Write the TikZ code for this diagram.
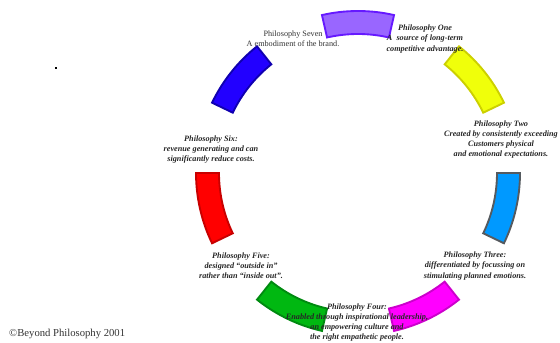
\documentclass[tikz,border=0pt]{standalone}
\usepackage{fontspec}
\setmainfont{Liberation Serif}
\usetikzlibrary{positioning}

\definecolor{segPurple}{HTML}{9966FF}
\definecolor{segPurpleD}{HTML}{6619FF}
\definecolor{segYellow}{HTML}{F0FF0A}
\definecolor{segYellowD}{HTML}{CCD000}
\definecolor{segSky}{HTML}{0099FF}
\definecolor{segSkyD}{HTML}{555A5F}
\definecolor{segMagenta}{HTML}{FF00FF}
\definecolor{segMagentaD}{HTML}{CC00CC}
\definecolor{segGreen}{HTML}{00B811}
\definecolor{segGreenD}{HTML}{008A10}
\definecolor{segRed}{HTML}{FF0000}
\definecolor{segRedD}{HTML}{C80000}
\definecolor{segBlue}{HTML}{2200FF}
\definecolor{segBlueD}{HTML}{1000B0}

\begin{document}
\begin{tikzpicture}[
    x=0.3mm, y=0.3mm,
    seg/.style={line width=1.6pt, line join=miter},
    phil/.style={
        font=\fontsize{7}{8.6}\selectfont\bfseries\itshape,
        text=black!85, align=center, inner sep=0pt,
    },
    plain/.style={
        font=\fontsize{7}{8.2}\selectfont,
        text=black!80, align=center, inner sep=0pt,
    },
]
\useasboundingbox (0,0) rectangle (560,343);

% === RING: seven segments ===
\coordinate (ctr) at (358,170);
\def\Rout{162}
\def\Rin{139}
\def\hw{12.86}
\foreach \ang/\fc/\dc in {90/segPurple/segPurpleD,
                          38.57/segYellow/segYellowD,
                          -12.86/segSky/segSkyD,
                          -64.29/segMagenta/segMagentaD,
                          -115.71/segGreen/segGreenD,
                          -167.14/segRed/segRedD,
                          141.43/segBlue/segBlueD} {
    \draw[seg, fill=\fc, draw=\dc, shift={(ctr)}]
        (\ang-\hw:\Rout) arc[start angle=\ang-\hw, end angle=\ang+\hw, radius=\Rout]
        -- (\ang+\hw:\Rin) arc[start angle=\ang+\hw, end angle=\ang-\hw, radius=\Rin]
        -- cycle;
}

% === LABELS ===
\node[plain] (seven) at (293,304) {Philosophy Seven\\A embodiment of the brand.};
\node[phil] (one) at (425,304) {Philosophy One\\A\ \ source of long-term\\competitive advantage.};
\node[phil] (two) at (501,203.5) {Philosophy Two\\Created by consistently exceeding\\Customers physical\\and emotional expectations.};
\node[phil] (three) at (475,77) {Philosophy Three:\\differentiated by focussing on\\stimulating planned emotions.};
\node[phil] (four) at (357,20.5) {Philosophy Four:\\Enabled through inspirational leadership,\\an empowering culture and\\the right empathetic people.};
\node[phil] (five) at (241,77) {Philosophy Five:\\designed ``outside in''\\rather than ``inside out''.};
\node[phil] (six) at (211,193.5) {Philosophy Six:\\revenue generating and can\\significantly reduce costs.};

% footer and stray mark
\node[plain, font=\fontsize{9.1}{10}\selectfont, anchor=west] (copy) at (9,9) {\textcopyright Beyond Philosophy 2001};
\node[fill=black, inner sep=0pt, minimum size=0.45mm] (dot) at (56,275) {};

\end{tikzpicture}
\end{document}
